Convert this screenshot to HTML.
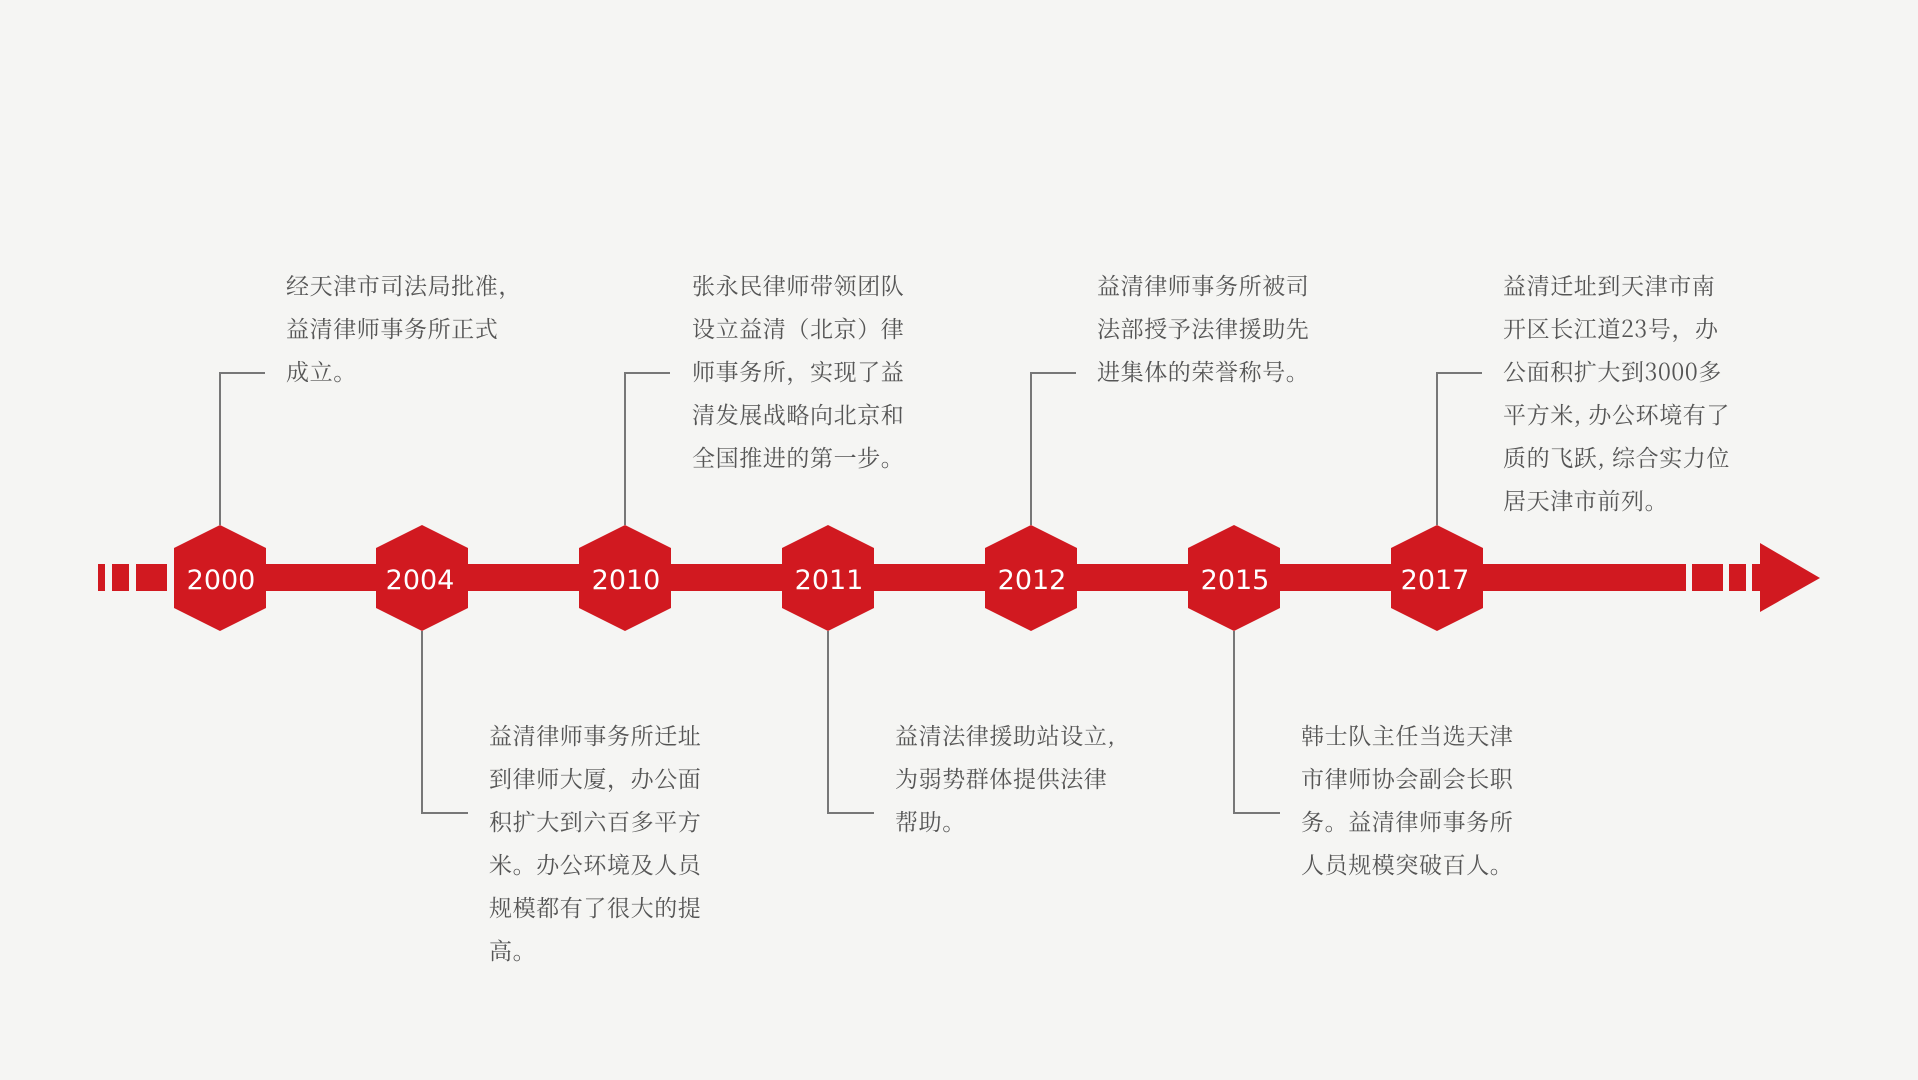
<!DOCTYPE html>
<html><head><meta charset="utf-8"><style>
html,body{margin:0;padding:0;background:#f5f5f3;}
body{width:1918px;height:1080px;position:relative;overflow:hidden;}
.t{position:absolute;font-family:"Noto Serif CJK SC","Liberation Serif",serif;font-size:23px;line-height:43px;color:#555;white-space:nowrap;letter-spacing:0.6px;}
svg{position:absolute;left:0;top:0;}
</style></head><body>
<svg width="1918" height="1080" viewBox="0 0 1918 1080">
<g fill="#d11920">
<rect x="98" y="564" width="7" height="27"/>
<rect x="112" y="564" width="17" height="27"/>
<rect x="136" y="564" width="31" height="27"/>
<rect x="174" y="564" width="1512" height="27"/>
<rect x="1692" y="564" width="31" height="27"/>
<rect x="1729" y="564" width="17" height="27"/>
<rect x="1752" y="564" width="10" height="27"/>
<polygon points="1760,543 1820,578 1760,612"/>
</g>
<g stroke="#777" stroke-width="2" fill="none">
<polyline points="220,525 220,373 265,373"/>
<polyline points="625,525 625,373 670,373"/>
<polyline points="1031,525 1031,373 1076,373"/>
<polyline points="1437,525 1437,373 1482,373"/>
<polyline points="422,631 422,813 468,813"/>
<polyline points="828,631 828,813 874,813"/>
<polyline points="1234,631 1234,813 1280,813"/>
</g>
<g fill="#d11920">
<polygon points="220,525 266,548 266,608 220,631 174,608 174,548"/>
<polygon points="422,525 468,548 468,608 422,631 376,608 376,548"/>
<polygon points="625,525 671,548 671,608 625,631 579,608 579,548"/>
<polygon points="828,525 874,548 874,608 828,631 782,608 782,548"/>
<polygon points="1031,525 1077,548 1077,608 1031,631 985,608 985,548"/>
<polygon points="1234,525 1280,548 1280,608 1234,631 1188,608 1188,548"/>
<polygon points="1437,525 1483,548 1483,608 1437,631 1391,608 1391,548"/>
</g>
<g fill="#fff" font-family="DejaVu Sans, Liberation Sans, sans-serif" font-size="27" text-anchor="middle">
<text x="221" y="589">2000</text>
<text x="420" y="589">2004</text>
<text x="626" y="589">2010</text>
<text x="829" y="589">2011</text>
<text x="1032" y="589">2012</text>
<text x="1235" y="589">2015</text>
<text x="1435" y="589">2017</text>
</g>
</svg>
<div class="t" style="left:286px;top:263px">经天津市司法局批准，<br>益清律师事务所正式<br>成立。</div>
<div class="t" style="left:692px;top:263px">张永民律师带领团队<br>设立益清（北京）律<br>师事务所，实现了益<br>清发展战略向北京和<br>全国推进的第一步。</div>
<div class="t" style="left:1097px;top:263px">益清律师事务所被司<br>法部授予法律援助先<br>进集体的荣誉称号。</div>
<div class="t" style="left:1503px;top:263px">益清迁址到天津市南<br>开区长江道23号，办<br>公面积扩大到3000多<br>平方米, 办公环境有了<br>质的飞跃, 综合实力位<br>居天津市前列。</div>
<div class="t" style="left:489px;top:713px">益清律师事务所迁址<br>到律师大厦，办公面<br>积扩大到六百多平方<br>米。办公环境及人员<br>规模都有了很大的提<br>高。</div>
<div class="t" style="left:895px;top:713px">益清法律援助站设立,<br>为弱势群体提供法律<br>帮助。</div>
<div class="t" style="left:1301px;top:713px">韩士队主任当选天津<br>市律师协会副会长职<br>务。益清律师事务所<br>人员规模突破百人。</div>
</body></html>
